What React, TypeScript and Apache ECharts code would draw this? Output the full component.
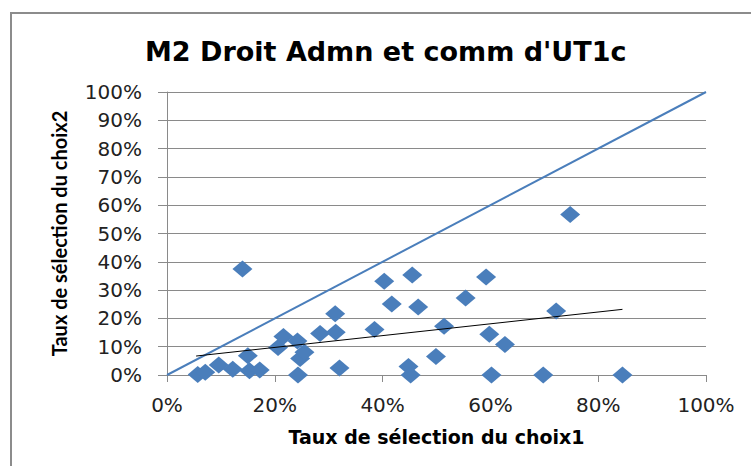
import React, { useEffect, useRef } from "react";
import * as echarts from "echarts";

const TITLE = "M2 Droit Admn et comm d'UT1c";
const X_NAME = "Taux de sélection du choix1";
const Y_NAME = "Taux de sélection du choix2";

// Points: [taux choix1, taux choix2]
const choix1 = [
  0.057, 0.071, 0.096, 0.122, 0.14, 0.15, 0.153, 0.172, 0.206, 0.216, 0.242, 0.247,
  0.255, 0.243, 0.284, 0.312, 0.313, 0.32, 0.385, 0.403, 0.417, 0.455, 0.466, 0.448,
  0.452, 0.499, 0.514, 0.554, 0.592, 0.598, 0.627, 0.602, 0.698, 0.722, 0.748, 0.845,
];
const choix2 = [
  0.002, 0.01, 0.035, 0.02, 0.375, 0.068, 0.015, 0.018, 0.097, 0.136, 0.12, 0.058,
  0.08, 0.0, 0.147, 0.216, 0.151, 0.025, 0.161, 0.331, 0.251, 0.353, 0.24, 0.03,
  0.0, 0.065, 0.172, 0.272, 0.346, 0.144, 0.108, 0.0, 0.0, 0.226, 0.567, 0.0,
];

// Reference diagonal y = x
const diagonal = [
  [0, 0],
  [1, 1],
];
// Trend line end points
const trend = [
  [0.054, 0.067],
  [0.845, 0.232],
];

const BLUE = "#4a7ebb";
const GRID = "#8a8a8a";

export default function App() {
  const ref = useRef<HTMLDivElement>(null);
  useEffect(() => {
    if (!ref.current) return;
    const chart = echarts.init(ref.current, undefined, { renderer: "svg" });
    const points = choix1.map((x, i) => [x, choix2[i]]);
    const pct = (v: number) => `${Math.round(v * 100)}%`;
    chart.setOption({
      animation: false,
      backgroundColor: "#ffffff",
      title: {
        text: TITLE,
        left: 145,
        top: 38,
        padding: 0,
        textStyle: {
          fontFamily: "DejaVu Sans",
          fontSize: 27,
          fontWeight: "bold",
          color: "#000000",
        },
      },
      graphic: [
        {
          type: "rect",
          shape: { x: 11, y: 13, width: 780, height: 480 },
          style: { fill: "none", stroke: "#8c8c8c", lineWidth: 2 },
          silent: true,
        },
      ],
      grid: { left: 167, right: 45, top: 92, bottom: 91 },
      xAxis: {
        type: "value",
        min: 0,
        max: 1,
        interval: 0.2,
        name: X_NAME,
        nameLocation: "middle",
        nameGap: 52,
        nameTextStyle: {
          fontFamily: "DejaVu Sans",
          fontSize: 19,
          fontWeight: "bold",
          color: "#000000",
        },
        axisLine: { show: true, lineStyle: { color: GRID, width: 1 } },
        axisTick: { show: true, inside: false, length: 7, lineStyle: { color: GRID } },
        splitLine: { show: false },
        axisLabel: {
          formatter: pct,
          margin: 20,
          fontFamily: "DejaVu Sans",
          fontSize: 20,
          color: "#222222",
        },
      },
      yAxis: {
        type: "value",
        min: 0,
        max: 1,
        interval: 0.1,
        name: Y_NAME,
        nameLocation: "middle",
        nameGap: 98,
        nameTextStyle: {
          fontFamily: "Lato",
          fontSize: 20,
          fontWeight: "bold",
          color: "#000000",
        },
        axisLine: { show: true, lineStyle: { color: GRID, width: 1 } },
        axisTick: { show: true, inside: false, length: 9, lineStyle: { color: GRID } },
        splitLine: { show: true, lineStyle: { color: GRID, width: 1 } },
        axisLabel: {
          formatter: pct,
          margin: 25,
          fontFamily: "DejaVu Sans",
          fontSize: 20,
          color: "#222222",
        },
      },
      series: [
        {
          type: "line",
          data: diagonal,
          symbol: "none",
          lineStyle: { color: BLUE, width: 2 },
          z: 2,
        },
        {
          type: "line",
          data: trend,
          symbol: "none",
          lineStyle: { color: "#000000", width: 1 },
          z: 4,
        },
        {
          type: "scatter",
          data: points,
          symbol: "diamond",
          symbolSize: [20, 17],
          itemStyle: { color: BLUE, opacity: 1 },
          z: 3,
        },
      ],
    });
    return () => chart.dispose();
  }, []);
  return (
    <div
      ref={ref}
      style={{ position: "fixed", left: 0, top: 0, width: 751, height: 466 }}
    />
  );
}
